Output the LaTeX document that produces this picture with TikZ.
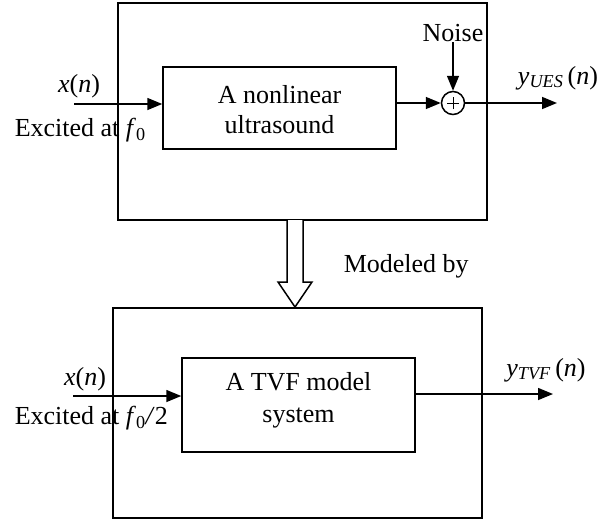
\documentclass[tikz,border=0pt]{standalone}
\usepackage{fontspec}
\setmainfont{Liberation Serif}
\usetikzlibrary{arrows.meta}
\begin{document}
\begin{tikzpicture}[x=1pt,y=-1pt,
  line width=1.5pt,
  every node/.style={font=\fontsize{26}{30}\selectfont, inner sep=0pt},
  blk/.style={draw, rectangle, align=center},
  sig/.style={-{Triangle[length=15pt,width=12pt]}}]
\useasboundingbox (0,0) rectangle (612,522);
% top section
\node[blk, minimum width=369pt, minimum height=217pt] (outer1) at (302.5,111.5) {};
\node[blk, minimum width=233pt, minimum height=82pt] (inner1) at (279.5,108) {};
\node[align=center] (t1) at (279.5,110) {A nonlinear\\ultrasound};
\node[draw, circle, minimum size=23pt] (sum) at (453,103) {};
\draw[line width=1pt] ([xshift=-6pt]sum.center) -- ([xshift=6pt]sum.center)
      ([yshift=-6pt]sum.center) -- ([yshift=6pt]sum.center);
\node (noise) at (453,33) {Noise};
\coordinate (in1) at (74,104);
\coordinate (out1) at (557,103);
\node (x1) at (79,86) {\textit{x}(\textit{n})};
\node[anchor=west] (exc1) at (14,130) {Excited at \textit{f}\textsubscript{0}};
\node (y1) at (558,78) {\textit{y}\textsubscript{\textit{UES}}\,(\textit{n})};
\draw[sig] (in1) -- (in1 -| inner1.west);
\draw[sig] (inner1.east |- sum) -- (sum.west);
\draw[sig] (noise.south) -- (sum.north);
\draw[sig] (sum.east) -- (out1);
% bottom section
\node[blk, minimum width=369pt, minimum height=210pt] (outer2) at (297.5,413) {};
\node[blk, minimum width=233pt, minimum height=94pt] (inner2) at (298.5,405) {};
\node[align=center, font=\fontsize{26}{32}\selectfont] (t2) at (298.5,400) {A TVF model\\system};
\coordinate (in2) at (73,396);
\coordinate (out2) at (553,394);
\node (x2) at (85,379) {\textit{x}(\textit{n})};
\node[anchor=west] (exc2) at (14,418) {Excited at \textit{f}\textsubscript{0}\textit{/}2};
\node (y2) at (546,370) {\textit{y}\textsubscript{\textit{TVF}}\,(\textit{n})};
\draw[sig] (in2) -- (in2 -| inner2.west);
\draw[sig] (inner2.east |- out2) -- (out2);
% modeled by
\coordinate (tip) at (295,307);
\node[anchor=west] (model) at (343,266) {Modeled by};
\draw[fill=white] (287,220) -- (287,282) -- (278,282) -- (tip) -- (312,282) -- (303,282) -- (303,220);
\end{tikzpicture}
\end{document}
